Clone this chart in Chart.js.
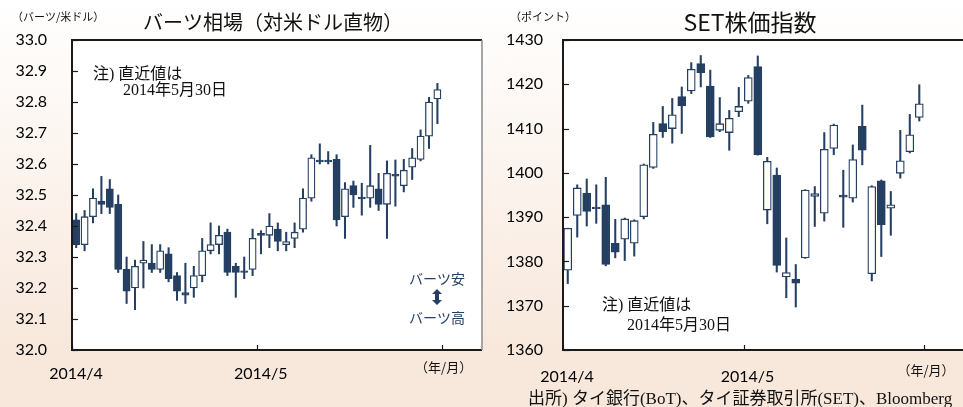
<!DOCTYPE html>
<html>
<head>
<meta charset="utf-8">
<script src="https://cdn.jsdelivr.net/npm/chart.js@4.4.1/dist/chart.umd.min.js"></script>
<style>
  html, body { margin: 0; padding: 0; }
  body {
    width: 963px; height: 407px; overflow: hidden; position: relative;
    background: linear-gradient(#ffffff 0%, #f8e8dc 85%, #f8e8dc 100%);
  }
  canvas { position: absolute; top: 0; }
  #baht { left: 0; }
  #set { left: 484px; }
</style>
</head>
<body>
<canvas id="baht" width="490" height="407"></canvas>
<canvas id="set" width="479" height="407"></canvas>
<script>
// バーツ相場 (THB per USD), trading days Apr-May 2014
const bahtDaysPerMonth = [22, 22];
const bahtMonthLabels = ['2014/4', '2014/5', ''];
const bahtOpen  = [32.42, 32.34, 32.43, 32.48, 32.52, 32.47, 32.26, 32.20, 32.28, 32.28, 32.26, 32.31, 32.24, 32.185, 32.20, 32.24, 32.32, 32.34, 32.38, 32.27, 32.255, 32.26,
                   32.376, 32.37, 32.39, 32.34, 32.36, 32.39, 32.49, 32.613, 32.613, 32.615, 32.43, 32.53, 32.493, 32.49, 32.52, 32.47, 32.567, 32.53, 32.59, 32.615, 32.69, 32.81];
const bahtHigh  = [32.44, 32.45, 32.52, 32.56, 32.55, 32.50, 32.30, 32.29, 32.35, 32.34, 32.34, 32.33, 32.25, 32.28, 32.27, 32.36, 32.41, 32.40, 32.39, 32.28, 32.30, 32.39,
                   32.385, 32.44, 32.41, 32.38, 32.41, 32.52, 32.63, 32.665, 32.64, 32.63, 32.54, 32.545, 32.538, 32.66, 32.57, 32.61, 32.613, 32.615, 32.65, 32.71, 32.815, 32.86];
const bahtLow   = [32.33, 32.32, 32.41, 32.44, 32.44, 32.25, 32.15, 32.13, 32.20, 32.25, 32.25, 32.22, 32.16, 32.15, 32.17, 32.22, 32.31, 32.31, 32.24, 32.17, 32.23, 32.24,
                   32.31, 32.33, 32.32, 32.32, 32.33, 32.38, 32.48, 32.60, 32.60, 32.40, 32.36, 32.46, 32.435, 32.46, 32.45, 32.36, 32.464, 32.51, 32.55, 32.61, 32.65, 32.73];
const bahtClose = [32.34, 32.43, 32.49, 32.47, 32.46, 32.26, 32.19, 32.27, 32.29, 32.26, 32.32, 32.23, 32.19, 32.177, 32.24, 32.32, 32.34, 32.37, 32.25, 32.25, 32.25, 32.36,
                   32.370, 32.40, 32.35, 32.35, 32.38, 32.49, 32.62, 32.607, 32.607, 32.42, 32.52, 32.50, 32.487, 32.53, 32.47, 32.57, 32.561, 32.58, 32.62, 32.69, 32.80, 32.84];

// SET株価指数, trading days Apr-May 2014
const setDaysPerMonth = [19, 19];
const setMonthLabels = ['2014/4', '2014/5', ''];
const setOpen  = [1378, 1390.4, 1395.4, 1392.3, 1392.8, 1384.1, 1385, 1384.1, 1390.1, 1401.2, 1411.1, 1410, 1417.2, 1418.5, 1424.7, 1419.6, 1409.6, 1409.1, 1413.8,
                  1416.2, 1424, 1391.6, 1399.5, 1376.5, 1376, 1380.8, 1394.7, 1390.9, 1405.5, 1395.0, 1394.3, 1410.5, 1377.2, 1398.2, 1392, 1399.9, 1404.8, 1412.5];
const setHigh  = [1387.5, 1397.3, 1398.6, 1397.3, 1399, 1389.5, 1389.8, 1389.4, 1402, 1411.4, 1415, 1416.8, 1419.4, 1424.9, 1426.5, 1423.2, 1417, 1414.1, 1419.3,
                  1422, 1426.4, 1403.5, 1401.1, 1385.3, 1379.3, 1396.2, 1396.9, 1409.1, 1411, 1400.6, 1406.3, 1415.3, 1397.1, 1398.4, 1395.8, 1409.6, 1413.2, 1419.9];
const setLow   = [1375, 1385.5, 1388, 1388.6, 1379, 1380.8, 1380.2, 1381.2, 1389.6, 1401, 1408, 1406.7, 1408.9, 1417.9, 1419.4, 1408, 1409.3, 1405.1, 1412.7,
                  1415.7, 1404, 1388.5, 1377.6, 1371.8, 1369.7, 1380.7, 1387.9, 1389.1, 1404.1, 1387.7, 1393.4, 1401.8, 1375.6, 1381.1, 1385.9, 1398.8, 1404.5, 1411.7];
const setClose = [1387.5, 1396.6, 1391.3, 1391.9, 1379.3, 1382.1, 1389.6, 1389.2, 1401.8, 1408.7, 1409.3, 1413.1, 1415.1, 1423.4, 1422.6, 1408.1, 1411.1, 1412.3, 1415,
                  1421.5, 1404.1, 1402.6, 1379.1, 1377.5, 1375.1, 1396.1, 1395.3, 1405.3, 1410.8, 1394.5, 1403, 1405.1, 1396.9, 1388.3, 1392.8, 1402.7, 1408.6, 1415.6];

const NAVY = '#253f62';
const TICK_FONT = "Lato, 'Noto Sans CJK JP', sans-serif";
const JP_FONT = "'Noto Sans CJK JP', sans-serif";
const NOTE_FONT = "'Liberation Serif', 'Noto Sans CJK JP', serif";

function monthEdges(counts) {
  const edges = [-0.5];
  counts.forEach(c => edges.push(edges[edges.length - 1] + c));
  return edges;
}

function candleSets(open, high, low, close, bodyW) {
  return [
    {
      data: open.map((o, i) => ({ x: i, y: [low[i], high[i]] })),
      backgroundColor: NAVY, barThickness: 1.4, grouped: false, order: 2
    },
    {
      data: open.map((o, i) => ({ x: i, y: [o, close[i]] })),
      backgroundColor: open.map((o, i) => close[i] < o ? NAVY : '#ffffff'),
      borderColor: NAVY, borderWidth: 1.3, borderSkipped: false,
      barThickness: bodyW, grouped: false, order: 1
    }
  ];
}

// white plot area, frame, inward tick marks and the free texts
function panelPlugin(cfg) {
  return {
    id: 'panel',
    beforeDraw(chart) {
      const { ctx, chartArea: a } = chart;
      ctx.save();
      ctx.fillStyle = '#ffffff';
      ctx.fillRect(a.left, a.top, a.right - a.left, a.bottom - a.top);
      ctx.restore();
    },
    afterDraw(chart) {
      const { ctx, chartArea: a, scales: { x, y } } = chart;
      ctx.save();
      ctx.strokeStyle = '#1a1a1a';
      ctx.lineWidth = 1.2;
      y.ticks.forEach(t => {
        const py = Math.round(y.getPixelForValue(t.value)) + 0.5;
        ctx.beginPath(); ctx.moveTo(a.left, py); ctx.lineTo(a.left + 6, py); ctx.stroke();
      });
      cfg.edges.forEach(v => {
        const px = Math.round(x.getPixelForValue(v)) + 0.5;
        ctx.beginPath(); ctx.moveTo(px, a.bottom); ctx.lineTo(px, a.bottom - 5); ctx.stroke();
      });
      ctx.lineWidth = 2;
      ctx.beginPath();
      ctx.moveTo(a.right, a.top); ctx.lineTo(a.left, a.top);
      ctx.lineTo(a.left, a.bottom); ctx.lineTo(a.right, a.bottom);
      ctx.stroke();
      if (cfg.rightBorder) {
        ctx.strokeStyle = '#8a8a8a';
        ctx.lineWidth = 1.5;
        ctx.beginPath(); ctx.moveTo(a.right, a.top); ctx.lineTo(a.right, a.bottom); ctx.stroke();
      }
      ctx.textBaseline = 'middle';
      cfg.texts.forEach(t => {
        ctx.font = t.font;
        ctx.fillStyle = t.color || '#111';
        ctx.textAlign = t.align || 'left';
        const tx = t.edge !== undefined ? x.getPixelForValue(cfg.edges[t.edge]) + 2 : t.x;
        ctx.fillText(t.text, tx, t.y);
      });
      if (cfg.arrow) {
        const { ax, ay } = cfg.arrow;
        ctx.fillStyle = NAVY;
        ctx.beginPath();
        ctx.moveTo(ax, ay - 8); ctx.lineTo(ax + 5, ay - 3); ctx.lineTo(ax + 2, ay - 3);
        ctx.lineTo(ax + 2, ay + 3); ctx.lineTo(ax + 5, ay + 3); ctx.lineTo(ax, ay + 8);
        ctx.lineTo(ax - 5, ay + 3); ctx.lineTo(ax - 2, ay + 3); ctx.lineTo(ax - 2, ay - 3);
        ctx.lineTo(ax - 5, ay - 3); ctx.closePath(); ctx.fill();
      }
      ctx.restore();
    }
  };
}

function makeChart(id, p) {
  const edges = monthEdges(p.days);
  return new Chart(document.getElementById(id), {
    type: 'bar',
    data: { datasets: candleSets(p.open, p.high, p.low, p.close, p.bodyW) },
    options: {
      responsive: false, animation: false, devicePixelRatio: 1,
      layout: { padding: { left: 0, right: p.padRight, top: 40, bottom: 0 } },
      plugins: { legend: { display: false }, tooltip: { enabled: false } },
      scales: {
        x: {
          type: 'linear', min: -0.5, max: p.xMax, bounds: 'data', offset: false,
          grid: { display: false, drawTicks: false }, border: { display: false },
          afterBuildTicks: s => { s.ticks = edges.map(v => ({ value: v })); },
          afterFit: s => { s.height = 57; },
          ticks: {
            autoSkip: false, maxRotation: 0, padding: p.xPad, labelOffset: 4, color: '#000',
            font: { family: TICK_FONT, size: 16 },
            callback: (v, i) => p.labels[i]
          }
        },
        y: {
          min: p.yMin, max: p.yMax,
          grid: { display: false, drawTicks: false }, border: { display: false },
          afterFit: s => { s.width = p.yWidth; },
          ticks: {
            stepSize: p.step, padding: p.yPad, color: '#000',
            font: { family: TICK_FONT, size: 16 },
            callback: v => v.toFixed(p.digits)
          }
        }
      }
    },
    plugins: [panelPlugin({ edges, texts: p.texts, rightBorder: p.rightBorder, arrow: p.arrow })]
  });
}

makeChart('baht', {
  open: bahtOpen, high: bahtHigh, low: bahtLow, close: bahtClose, days: bahtDaysPerMonth,
  labels: bahtMonthLabels, bodyW: 7.2, padRight: 8, xMax: 48.31, xPad: 14,
  yMin: 32.0, yMax: 33.0, step: 0.1, digits: 1, yWidth: 72, yPad: 25, rightBorder: true,
  arrow: { ax: 437, ay: 297 },
  texts: [
    { text: '（バーツ/米ドル）', x: 12, y: 17, font: `11px ${JP_FONT}` },
    { text: 'バーツ相場（対米ドル直物）', x: 273, y: 22, align: 'center', font: `20px ${JP_FONT}` },
    { text: '注) 直近値は', x: 93, y: 75, font: `16px ${NOTE_FONT}` },
    { text: '2014年5月30日', x: 123, y: 91, font: `16px ${NOTE_FONT}` },
    { text: 'バーツ安', x: 437, y: 279, align: 'center', color: NAVY, font: `14px ${JP_FONT}` },
    { text: 'バーツ高', x: 437, y: 318, align: 'center', color: NAVY, font: `14px ${JP_FONT}` },
    { text: '（年/月）', edge: 2, y: 367, align: 'center', font: `13px ${JP_FONT}` }
  ]
});

makeChart('set', {
  open: setOpen, high: setHigh, low: setLow, close: setClose, days: setDaysPerMonth,
  labels: setMonthLabels, bodyW: 8, padRight: 0, xMax: 41.6, xPad: 17,
  yMin: 1360, yMax: 1430, step: 10, digits: 0, yWidth: 79, yPad: 20, rightBorder: false,
  texts: [
    { text: '（ポイント）', x: 26, y: 17, font: `11px ${JP_FONT}` },
    { text: 'SET株価指数', x: 266, y: 22, align: 'center', font: `23px ${JP_FONT}` },
    { text: '注) 直近値は', x: 118, y: 306, font: `16px ${NOTE_FONT}` },
    { text: '2014年5月30日', x: 143, y: 326, font: `16px ${NOTE_FONT}` },
    { text: '（年/月）', edge: 2, y: 370, align: 'center', font: `13px ${JP_FONT}` },
    { text: '出所) タイ銀行(BoT)、タイ証券取引所(SET)、Bloomberg', x: 44, y: 400, font: `17px ${NOTE_FONT}` }
  ]
});
</script>
</body>
</html>
